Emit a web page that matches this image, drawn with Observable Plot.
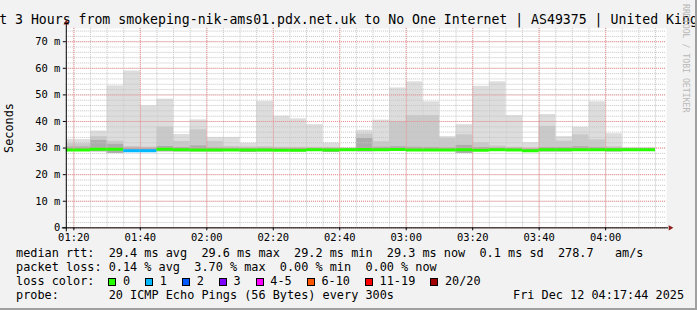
<!DOCTYPE html>
<html>
<head>
<meta charset="utf-8">
<script src="https://cdn.jsdelivr.net/npm/d3@7"></script>
<script src="https://cdn.jsdelivr.net/npm/@observablehq/plot@0.6"></script>
<style>
html, body { margin: 0; padding: 0; background: #f2f2f2; }
#wrap { position: relative; width: 697px; height: 310px; overflow: hidden; background: #f2f2f2;
  box-sizing: border-box; border-right: 2px solid #a0a0a0; border-bottom: 2px solid #a0a0a0;
  font-family: "DejaVu Sans Mono", monospace; color: #000; }
#wrap svg { position: absolute; left: 0; top: 0; }
.t { position: absolute; white-space: pre; font-size: 11.85px; line-height: 1; }
#title { font-size: 13.2px; top: 13px; left: 348.5px; transform: translateX(-50%); }
#ylab { left: 9.5px; top: 128px; transform: translate(-50%, -50%) rotate(-90deg); }
#wm { left: 682px; top: 4px; font-size: 8.2px; color: #b8b8b8; writing-mode: vertical-rl; }
#lossrow { position: absolute; left: 108.3px; top: 276.3px; display: flex; align-items: flex-start;
  font-size: 11.85px; line-height: 1; white-space: pre; }
.item { display: flex; align-items: flex-start; margin-right: 15px; }
.box { width: 8px; height: 8px; box-sizing: border-box; border: 1px solid #000; margin-top: 2px; margin-right: 6.7px; }
</style>
</head>
<body>
<div id="wrap"></div>
<script>
// ---- data ----
const chartTitle = "Last 3 Hours from smokeping-nik-ams01.pdx.net.uk to No One Internet | AS49375 | United Kingdom";
const windowStart = "01:17:44";
const windowEnd = "04:17:44";
const stepMinutes = 5;
const bucketStart = ["01:15","01:20","01:25","01:30","01:35","01:40","01:45","01:50","01:55","02:00",
  "02:05","02:10","02:15","02:20","02:25","02:30","02:35","02:40","02:45","02:50","02:55","03:00",
  "03:05","03:10","03:15","03:20","03:25","03:30","03:35","03:40","03:45","03:50","03:55","04:00",
  "04:05","04:10"];
const smokeMax = [33.2,33.2,36.4,53.4,59.0,45.9,48.4,35.1,40.6,34.0,34.0,31.8,47.5,42.0,41.0,38.8,31.9,30.1,
  36.7,40.5,52.6,54.9,47.4,34.3,38.8,53.2,54.9,42.2,32.0,42.6,34.3,37.8,47.4,35.4,30.1,30.1];
const smokeMid = [31.6,31.6,34.3,32.6,30.6,30.4,37.9,32.5,36.9,32.5,30.6,30.4,30.5,30.3,30.3,30.3,30.2,29.9,
  35.3,32.4,40.0,42.2,42.2,33.6,35.0,32.0,30.8,30.3,30.0,38.2,32.6,35.0,33.1,30.5,29.9,29.9];
const smokeInner = [30.4,30.4,32.8,31.4,30.0,29.9,30.6,30.2,30.8,30.0,29.9,29.8,29.9,29.8,29.8,29.8,29.8,29.7,
  33.6,30.3,30.5,30.3,30.2,30.0,31.0,30.2,30.0,29.9,29.6,30.2,30.2,30.5,30.2,29.9,29.7,29.7];
const smokeMin = [28.8,28.8,28.6,28.0,28.6,28.8,28.6,28.6,28.6,28.6,28.8,28.4,28.6,28.8,28.6,28.8,28.4,29.0,
  28.6,28.8,28.8,28.8,28.8,28.8,28.0,28.8,28.8,28.8,28.8,28.6,28.6,28.8,28.8,28.6,28.8,28.8];
const medianRtt = [29.3,29.3,29.6,29.6,29.0,29.0,29.6,29.4,29.3,29.3,29.3,29.3,29.3,29.2,29.2,29.4,29.3,29.4,
  29.5,29.4,29.5,29.3,29.3,29.3,29.4,29.2,29.4,29.3,29.0,29.4,29.4,29.4,29.4,29.4,29.4,29.4];
const lossClass = [0,0,0,0,1,1,0,0,0,0,0,0,0,0,0,0,0,0,0,0,0,0,0,0,0,0,0,0,0,0,0,0,0,0,0,0];
const lossLabels = ["0","1","2","3","4-5","6-10","11-19","20/20"];
const lossColors = ["#26ff00","#00b8ff","#0059ff","#7e00ff","#ff00ff","#ff5500","#ff0000","#a10000"];
const yTickValues = [0,10,20,30,40,50,60,70];
const yTickLabels = ["0","10 m","20 m","30 m","40 m","50 m","60 m","70 m"];
const xTickLabels = ["01:20","01:40","02:00","02:20","02:40","03:00","03:20","03:40","04:00"];
const yMax = 75;
const legendRtt = "median rtt:  29.4 ms avg  29.6 ms max  29.2 ms min  29.3 ms now  0.1 ms sd  278.7   am/s";
const legendLoss = "packet loss: 0.14 % avg  3.70 % max  0.00 % min  0.00 % now";
const legendProbe = "probe:       20 ICMP Echo Pings (56 Bytes) every 300s";
const stampText = "Fri Dec 12 04:17:44 2025";
const watermark = "RRDTOOL / TOBI OETIKER";

// ---- build ----
const toMin = s => { const p = s.split(":").map(Number); return p[0] * 60 + p[1] + (p[2] || 0) / 60; };
const t0 = toMin(windowStart), t1 = toMin(windowEnd);
const rows = bucketStart.map((s, i) => ({
  x1: toMin(s), x2: toMin(s) + stepMinutes,
  max: smokeMax[i], mid: smokeMid[i], inner: smokeInner[i], min: smokeMin[i],
  med: medianRtt[i], color: lossColors[lossClass[i]]
}));
const xTicks = xTickLabels.map(toMin);
const minorX = d3.range(Math.ceil(t0 / stepMinutes) * stepMinutes, t1, stepMinutes);
const minorY = d3.range(0, yMax, 2);

const plot = Plot.plot({
  width: 697, height: 310,
  marginLeft: 66, marginRight: 31, marginTop: 28, marginBottom: 82,
  style: { background: "transparent", fontFamily: "DejaVu Sans Mono, monospace", fontSize: "10.5px", color: "#000" },
  x: { type: "linear", domain: [t0, t1] },
  y: { domain: [0, yMax] },
  marks: [
    Plot.frame({ fill: "#ffffff", stroke: "none", insetRight: -2 }),
    Plot.rect(rows, { x1: "x1", x2: "x2", y1: "min", y2: "max", fill: "#dddddd", clip: true }),
    Plot.rect(rows, { x1: "x1", x2: "x2", y1: "min", y2: "mid", fill: "#c9c9c9", clip: true }),
    Plot.rect(rows, { x1: "x1", x2: "x2", y1: "min", y2: "inner", fill: "#acacac", clip: true }),
    Plot.ruleY(minorY, { stroke: "#c4c4c4", strokeDasharray: "1,1", insetRight: -2 }),
    Plot.ruleX(minorX, { stroke: "#c4c4c4", strokeDasharray: "1,1" }),
    Plot.ruleY(yTickValues, { stroke: "#f08c8c", strokeDasharray: "1,1", insetRight: -2 }),
    Plot.ruleX(xTicks, { stroke: "#f08c8c", strokeDasharray: "1,1" }),
    Plot.ruleY(rows, { x1: "x1", x2: "x2", y: "med", stroke: "color", strokeWidth: 3, clip: true }),
    Plot.ruleX([t0], { stroke: "#000", insetTop: -4, insetBottom: -4 }),
    Plot.ruleY([0], { stroke: "#000", insetLeft: -4, insetRight: -4 }),
    Plot.dot([{ x: t0, y: yMax }], { x: "x", y: "y", symbol: "triangle2", r: 2.6, fill: "#8e1b1b", stroke: "none", dy: -5.5 }),
    Plot.dot([{ x: t1, y: 0 }], { x: "x", y: "y", symbol: "triangle2", r: 2.6, fill: "#8e1b1b", stroke: "none", rotate: 90, dx: 5.7 }),
    Plot.axisY(yTickValues, { tickSize: 3, tickPadding: 3, label: null,
      tickFormat: d => yTickLabels[yTickValues.indexOf(d)] }),
    Plot.axisX(xTicks, { tickSize: 3, tickPadding: 3, label: null,
      tickFormat: d => xTickLabels[xTicks.indexOf(d)] })
  ]
});

const wrap = document.getElementById("wrap");
wrap.appendChild(plot);

function addText(id, cls, text, style) {
  const d = document.createElement("div");
  if (id) d.id = id;
  d.className = cls;
  d.textContent = text;
  if (style) Object.assign(d.style, style);
  wrap.appendChild(d);
  return d;
}
addText("title", "t", chartTitle);
addText("ylab", "t", "Seconds");
addText("wm", "t", watermark);
addText(null, "t", legendRtt, { left: "16px", top: "248.3px" });
addText(null, "t", legendLoss, { left: "16px", top: "262.3px" });
addText(null, "t", "loss color:", { left: "16px", top: "276.3px" });
addText(null, "t", legendProbe, { left: "16px", top: "290px" });
addText(null, "t", stampText, { left: "513px", top: "290px" });

const lossRow = document.createElement("div");
lossRow.id = "lossrow";
lossLabels.forEach((lab, i) => {
  const item = document.createElement("span");
  item.className = "item";
  const box = document.createElement("span");
  box.className = "box";
  box.style.background = lossColors[i];
  const txt = document.createElement("span");
  txt.textContent = lab;
  item.appendChild(box);
  item.appendChild(txt);
  lossRow.appendChild(item);
});
wrap.appendChild(lossRow);
</script>
</body>
</html>
